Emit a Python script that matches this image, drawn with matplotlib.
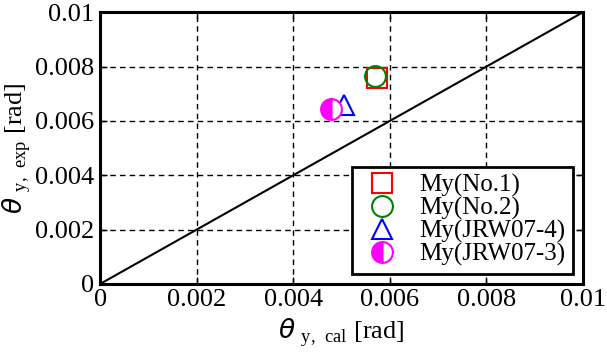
import matplotlib
matplotlib.use('Agg')
import matplotlib.pyplot as plt

plt.rcParams['font.family'] = 'Liberation Serif'
plt.rcParams['mathtext.fontset'] = 'custom'
plt.rcParams['mathtext.rm'] = 'Liberation Serif'
plt.rcParams['mathtext.it'] = 'DejaVu Sans:italic'

# theta_y,cal vs theta_y,exp [rad]
labels = ['My(No.1)', 'My(No.2)', 'My(JRW07-4)', 'My(JRW07-3)']
x_cal = [0.00573, 0.00569, 0.00505, 0.00478]
y_exp = [0.00757, 0.00766, 0.00658, 0.00643]
markers = ['s', 'o', '^', 'o']
colors = ['red', 'green', 'blue', 'magenta']
ticks = [0, 0.002, 0.004, 0.006, 0.008, 0.01]
tick_labels = ['0', '0.002', '0.004', '0.006', '0.008', '0.01']

fig, ax = plt.subplots(figsize=(6.07, 3.54), dpi=100)
fig.subplots_adjust(left=0.165, right=0.96, top=0.965, bottom=0.198)

ax.plot([0, 0.01], [0, 0.01], color='black', lw=1.5, zorder=2)

for i in range(len(labels)):
    if i == 3:
        ax.plot(x_cal[i], y_exp[i], marker='o', ms=15, ls='none', color=colors[i],
                fillstyle='left', markerfacecoloralt='white', mec=colors[i], mew=1.5,
                label=labels[i], zorder=3)
    else:
        ax.plot(x_cal[i], y_exp[i], marker=markers[i], ms=15, ls='none',
                mfc='none', mec=colors[i], mew=1.5, label=labels[i], zorder=3)

ax.set_xlim(0, 0.01)
ax.set_ylim(0, 0.01)
ax.set_xticks(ticks)
ax.set_xticklabels(tick_labels)
ax.set_yticks(ticks)
ax.set_yticklabels(tick_labels)
ax.tick_params(direction='in', labelsize=19, length=5, width=1, top=True, right=True, pad=4)
ax.grid(True, color='black', ls='--', lw=1, dashes=(4, 3))
for s in ax.spines.values():
    s.set_linewidth(2.2)

ax.set_xlabel(r'$\mathit{\theta}$ $_{\mathrm{y,\ cal}}$ [rad]', fontsize=19, labelpad=3)
ax.set_ylabel(r'$\mathit{\theta}$ $_{\mathrm{y,\ exp}}$ [rad]', fontsize=19)
ax.yaxis.set_label_coords(-0.14, 0.5)

leg = ax.legend(loc='lower right', fontsize=18, frameon=True, fancybox=False,
                edgecolor='black', handletextpad=0.6, labelspacing=0.0,
                borderpad=0.3, borderaxespad=0.4, handlelength=1.8)
leg.get_frame().set_linewidth(2)
leg.get_frame().set_alpha(1)

plt.savefig('out.png', dpi=100)
